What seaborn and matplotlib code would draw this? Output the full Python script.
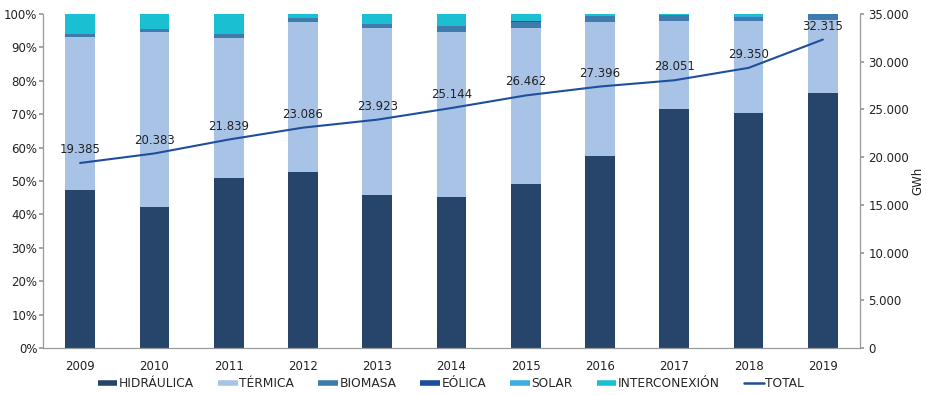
import matplotlib
matplotlib.use("Agg")
import matplotlib.pyplot as plt
import matplotlib.ticker as mticker
from matplotlib.lines import Line2D
import numpy as np
import pandas as pd
import seaborn as sns

years = ["2009", "2010", "2011", "2012", "2013", "2014", "2015", "2016", "2017", "2018", "2019"]
hidraulica = [47.3, 42.2, 50.9, 52.7, 45.8, 45.2, 49.1, 57.5, 71.6, 70.4, 76.3]
termica = [45.8, 52.3, 41.8, 44.9, 49.9, 49.4, 46.8, 40.0, 26.4, 27.6, 22.0]
biomasa = [1.0, 1.1, 1.2, 1.3, 1.4, 1.9, 1.6, 1.9, 1.7, 1.2, 1.7]
eolica = [0.0, 0.0, 0.0, 0.0, 0.0, 0.0, 0.4, 0.0, 0.0, 0.0, 0.0]
solar = [0.0, 0.0, 0.0, 0.0, 0.0, 0.0, 0.0, 0.2, 0.1, 0.3, 0.0]
interconexion = [5.9, 4.4, 6.1, 1.1, 2.9, 3.5, 2.1, 0.4, 0.2, 0.5, 0.0]
total = [19385, 20383, 21839, 23086, 23923, 25144, 26462, 27396, 28051, 29350, 32315]
total_labels = ["19.385", "20.383", "21.839", "23.086", "23.923", "25.144", "26.462", "27.396", "28.051", "29.350", "32.315"]

series_names = ["HIDRÁULICA", "TÉRMICA", "BIOMASA", "EÓLICA", "SOLAR", "INTERCONEXIÓN"]
series_vals = [hidraulica, termica, biomasa, eolica, solar, interconexion]
colors = ["#27446A", "#A9C3E7", "#3E7CAE", "#1B4C9E", "#3AAEE3", "#1BBFD2"]
line_color = "#1F4E9C"

sns.set_theme(style="white")
plt.rcParams["font.family"] = ["DejaVu Sans"]

fig = plt.figure(figsize=(9.28, 3.95), dpi=100)
ax = fig.add_axes([0.0463, 0.119, 0.8804, 0.8457])

df = pd.DataFrame({"year": years})
bottom = np.zeros(len(years))
for name, vals, c in zip(series_names, series_vals, colors):
    df[name] = vals
    sns.barplot(data=df, x="year", y=name, color=c, width=0.4, bottom=bottom,
                ax=ax, saturation=1, edgecolor="none", linewidth=0)
    bottom = bottom + np.array(vals)

ax.set_ylim(0, 100)
ax.set_xlim(-0.5, 10.5)
ax.yaxis.set_major_locator(mticker.MultipleLocator(10))
ax.yaxis.set_major_formatter(mticker.FuncFormatter(lambda v, p: f"{int(round(v))}%"))
ax.set_xlabel("")
ax.set_ylabel("")
for s in ["top", "right"]:
    ax.spines[s].set_visible(False)
for s in ["left", "bottom"]:
    ax.spines[s].set_color("#9a9a9a")
    ax.spines[s].set_linewidth(0.9)
ax.tick_params(axis="y", left=True, length=3, color="#9a9a9a", labelsize=8.5, pad=1, labelcolor="#222222")
ax.tick_params(axis="x", bottom=False, labelsize=8.5, pad=3, labelcolor="#222222")

ax2 = ax.twinx()
dline = pd.DataFrame({"pos": np.arange(len(years)), "total": total})
sns.lineplot(data=dline, x="pos", y="total", ax=ax2, color=line_color, linewidth=1.5)
ax2.set_ylim(0, 35000)
ax2.set_xlim(-0.5, 10.5)
ax2.yaxis.set_major_locator(mticker.MultipleLocator(5000))
ax2.yaxis.set_major_formatter(mticker.FuncFormatter(lambda v, p: f"{int(v):,}".replace(",", ".")))
ax2.set_ylabel("GWh", fontsize=8.5, color="#222222", rotation=90, va="center")
ax2.yaxis.set_label_coords(1.071, 0.5)
for s in ["top", "left", "bottom"]:
    ax2.spines[s].set_visible(False)
ax2.spines["right"].set_color("#9a9a9a")
ax2.spines["right"].set_linewidth(0.9)
ax2.tick_params(axis="y", right=True, length=3, color="#9a9a9a", labelsize=8.5, pad=3, labelcolor="#222222")
for i, (t, lab) in enumerate(zip(total, total_labels)):
    ax2.annotate(lab, (i, t), xytext=(0, 5), textcoords="offset points",
                 ha="center", va="bottom", fontsize=8.5, color="#222222")

handles = [Line2D([0], [0], color=c, linewidth=4, solid_capstyle="butt") for c in colors]
handles.append(Line2D([0], [0], color=line_color, linewidth=1.8))
labels = series_names + ["TOTAL"]
fig.legend(handles, labels, loc="center", bbox_to_anchor=(0.486, 0.028), ncol=7,
           frameon=False, handlelength=1.6, handletextpad=0.15,
           columnspacing=1.95, prop={"family": ["DejaVu Sans"], "size": 8.8})

fig.savefig("out.png", dpi=100)
